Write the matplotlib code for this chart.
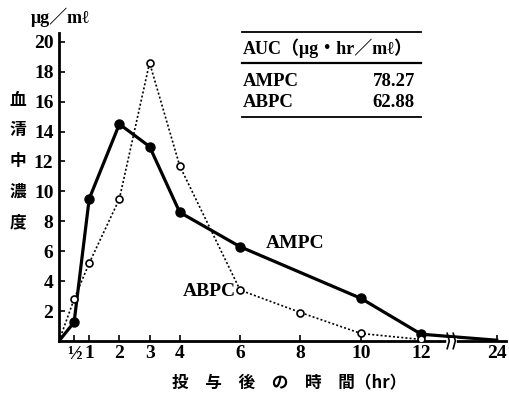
import matplotlib
matplotlib.use("Agg")
import matplotlib.pyplot as plt
import matplotlib.transforms as mtrans
import numpy as np

# データ
hours_ampc = [0, 0.5, 1, 2, 3, 4, 6, 10, 12, 24]
ampc = [0, 1.25, 9.5, 14.5, 13.0, 8.6, 6.3, 2.85, 0.45, 0.05]
hours_abpc = [0, 0.5, 1, 2, 3, 4, 6, 8, 10, 12]
abpc = [0, 2.8, 5.2, 9.5, 18.6, 11.7, 3.4, 1.9, 0.5, 0.1]

xticks = [0.5, 1, 2, 3, 4, 6, 8, 10, 12, 24]
xtick_labels = ["½", "1", "2", "3", "4", "6", "8", "10", "12", "24"]
yticks = [2, 4, 6, 8, 10, 12, 14, 16, 18, 20]

auc_names = ["AMPC", "ABPC"]
auc_values = ["78.27", "62.88"]

serif = ["Liberation Serif", "Noto Sans CJK JP"]
cjk = ["Noto Sans CJK JP", "DejaVu Sans"]


# 12時間以降は軸を圧縮（波線で省略）
def fwd(x):
    x = np.asarray(x, dtype=float)
    return np.where(x <= 12, x, 12 + (x - 12) * 2.5 / 12)


def inv(x):
    x = np.asarray(x, dtype=float)
    return np.where(x <= 12, x, 12 + (x - 12) * 12 / 2.5)


fig = plt.figure(figsize=(5.1, 3.96), dpi=100)
ax = fig.add_axes([0.1157, 0.139, 0.876, 0.778])
ax.set_xscale("function", functions=(fwd, inv))

ax.plot(hours_ampc, ampc, color="black", lw=2.3, zorder=3)
ax.plot(hours_ampc[1:-1], ampc[1:-1], "o", color="black", ms=6.5, zorder=4)
ax.plot(hours_abpc, abpc, color="black", lw=1.2, ls=(0, (1.2, 1.3)), zorder=2)
ax.plot(hours_abpc[1:], abpc[1:], "o", mfc="white", mec="black", mew=1.2, ms=5, zorder=4)

ax.set_xlim(0, inv(14.8))
ax.set_ylim(0, 20.6)
ax.set_xticks(xticks)
ax.set_xticklabels(xtick_labels)
ax.set_yticks(yticks)
ax.minorticks_off()
ax.tick_params(direction="in", length=4, width=1.2, labelsize=14, pad=3)
for lab in ax.get_xticklabels() + ax.get_yticklabels():
    lab.set_family(serif)
    lab.set_weight("bold")
ax.tick_params(axis="y", pad=4)

for s in ["top", "right"]:
    ax.spines[s].set_visible(False)
for s in ["left", "bottom"]:
    ax.spines[s].set_linewidth(2)

# 軸の省略記号
tr = mtrans.blended_transform_factory(ax.transData, ax.transAxes)
ax.plot([inv(12.93), inv(13.07)], [0, 0], color="white", lw=4, transform=tr,
        clip_on=False, zorder=5)
for dx in (12.9, 13.1):
    ax.plot([inv(dx - 0.04), inv(dx + 0.03), inv(dx - 0.04)], [-0.025, 0, 0.025],
            color="black", lw=1.2, transform=tr, clip_on=False, zorder=6)

# 曲線のラベル
ax.text(6.85, 6.5, "AMPC", fontsize=14, family=serif, weight="bold", ha="left", va="center")
ax.text(5.85, 3.3, "ABPC", fontsize=14, family=serif, weight="bold", ha="right", va="center")

# AUC 表
W, H = 510, 396
def fx(px):
    return px / W
def fy(py):
    return 1 - py / H

fig.add_artist(plt.Line2D([fx(242), fx(421)], [fy(32), fy(32)], color="black", lw=1.3))
fig.add_artist(plt.Line2D([fx(242), fx(421)], [fy(63), fy(63)], color="black", lw=1.6))
fig.add_artist(plt.Line2D([fx(242), fx(421)], [fy(117), fy(117)], color="black", lw=1.3))
fig.text(fx(243), fy(48), "AUC（μg・hr／mℓ）", fontsize=13, family=serif, weight="bold",
         ha="left", va="center")
for i, (n, v) in enumerate(zip(auc_names, auc_values)):
    yy = fy(82 + i * 20.5)
    fig.text(fx(243), yy, n, fontsize=13.5, family=serif, weight="bold", ha="left", va="center")
    fig.text(fx(415), yy, v, fontsize=13.5, family=serif, weight="bold", ha="right", va="center")

# 軸ラベル
fig.text(fx(60), fy(17), "μg／mℓ", fontsize=13, family=serif, weight="bold",
         ha="center", va="center")
for i, ch in enumerate("血清中濃度"):
    fig.text(fx(18), fy(100 + i * 30.5), ch, fontsize=12, family=cjk, weight="bold",
             ha="center", va="center")
fig.text(fx(289), fy(383), "投　与　後　の　時　間（hr）", fontsize=12, family=cjk,
         weight="bold", ha="center", va="center")

fig.savefig("out.png", dpi=100)
